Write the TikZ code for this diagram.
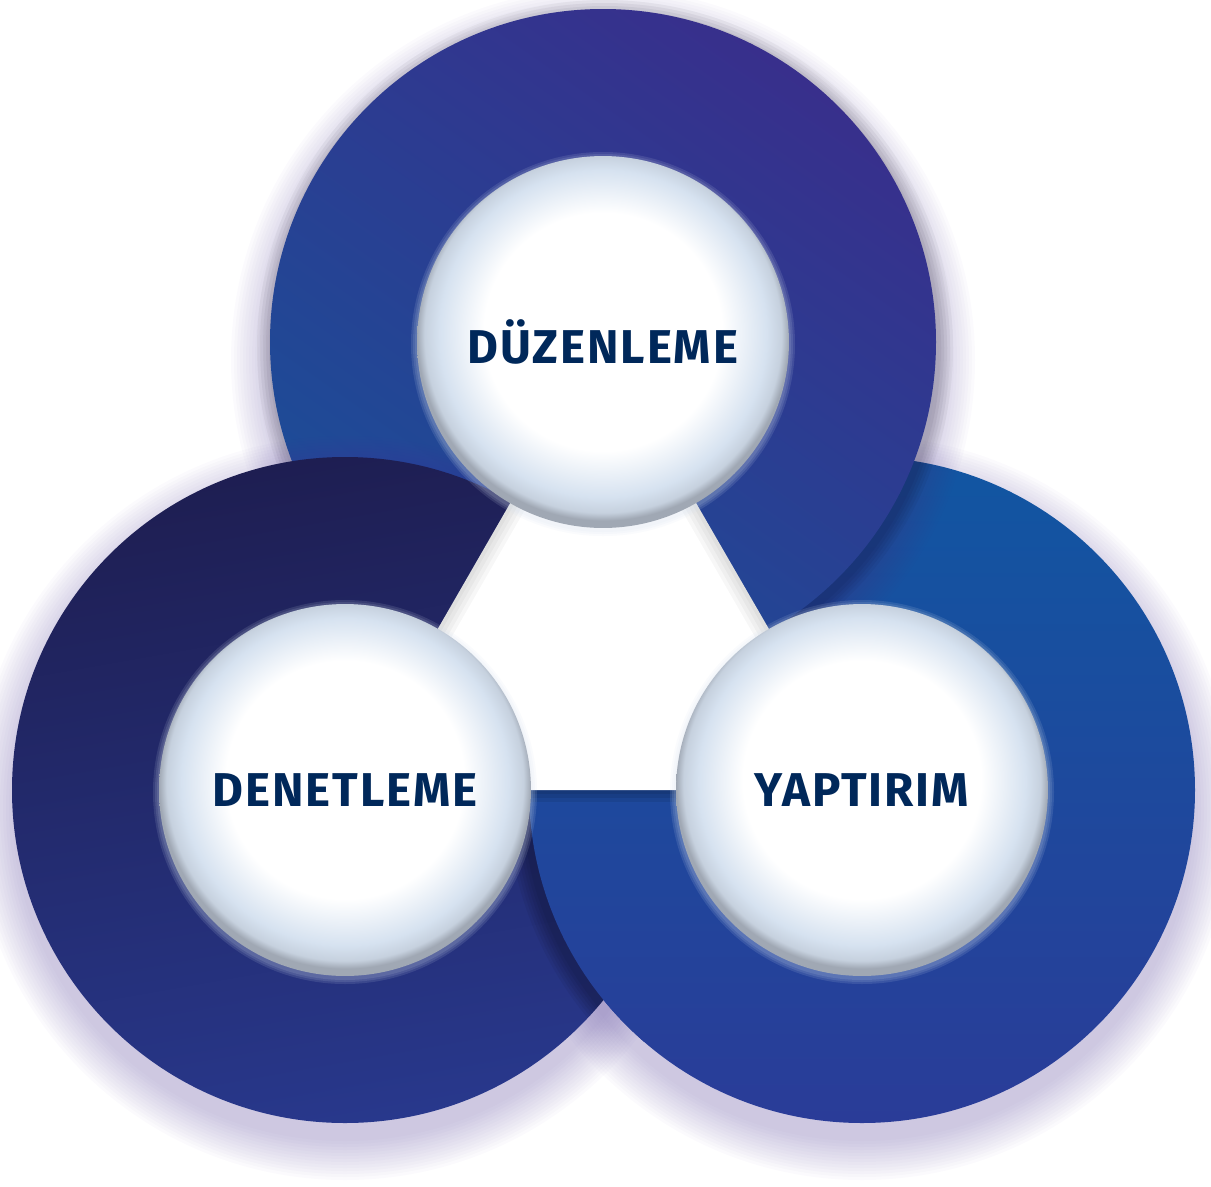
\documentclass[tikz,border=0pt]{standalone}
\usepackage{fontspec}
\usepackage{tikz}
\usetikzlibrary{positioning,calc}
\newfontfamily\ringfont{Fira Sans}[LetterSpace=4]
\definecolor{dzpurple}{RGB}{56,47,140}
\definecolor{dzblue}{RGB}{27,78,152}
\definecolor{dnnavy}{RGB}{30,30,82}
\definecolor{dnblue}{RGB}{40,56,140}
\definecolor{ypblue}{RGB}{17,86,162}
\definecolor{ypindigo}{RGB}{42,60,152}
\definecolor{rimblue}{RGB}{214,226,240}
\definecolor{rimgray}{RGB}{160,168,180}
\definecolor{labelnavy}{RGB}{0,40,90}
\definecolor{glowpurple}{RGB}{80,60,150}
\pgfdeclareradialshading{bubble}{\pgfpoint{0bp}{2bp}}{color(0bp)=(white); color(16bp)=(white); color(22bp)=(rimblue); color(24bp)=(rimblue!70!rimgray); color(25bp)=(rimgray); color(50bp)=(rimgray)}
\tikzstyle{ringshadow} = [fill=glowpurple, opacity=0.022]
\tikzstyle{innerdisc} = [circle, minimum size=7.44cm, inner sep=0pt, shade, shading=bubble, text=labelnavy, font=\ringfont\bfseries\fontsize{27}{27}\selectfont]
\tikzstyle{discglow} = [fill=rimblue, opacity=0.12]

\begin{document}
\begin{tikzpicture}[x=0.02cm, y=-0.02cm]
\useasboundingbox (0,0) rectangle (1211,1187);
\coordinate (topc) at (603,342);
\coordinate (leftc) at (345,790);
\coordinate (rightc) at (862,790);

% Rings
\foreach \k in {3,6,...,42}
  \fill[ringshadow] ($(rightc)+(0,18)$) circle ({330+\k});
\shade[top color=ypblue, bottom color=ypindigo] (rightc) circle (333);

\foreach \k in {3,6,...,42}
  \fill[ringshadow] ($(topc)+(0,18)$) circle ({330+\k});
\foreach \k in {3,6,...,15}
  \fill[black, opacity=0.04] ($(topc)+(2,6)$) circle ({333+\k});
\shade[top color=dzpurple, bottom color=dzblue, shading angle=-35] (topc) circle (333);

\foreach \k in {3,6,...,42}
  \fill[ringshadow] ($(leftc)+(0,18)$) circle ({330+\k});
\shade[top color=dnnavy, bottom color=dnblue, shading angle=10] (leftc) circle (333);

% right ring lies over the left one at the bottom
\begin{scope}
\clip (0,790) rectangle (1211,1187);
\clip (leftc) circle (333);
\foreach \k in {3,6,...,18}
  \fill[black, opacity=0.05] ($(rightc)+(-4,4)$) circle ({333+\k});
\end{scope}
\begin{scope}
\clip (0,790) rectangle (1211,1187);
\clip ($(leftc)+(0,18)$) circle (380);
\shade[top color=ypblue, bottom color=ypindigo] (rightc) circle (333);
\end{scope}

% Middle triangle
\foreach \w in {24,16,8}
  \draw[black, opacity=0.08, line width=\w*0.02cm] (leftc) -- (rightc);
\fill[white] (topc) -- (leftc) -- (rightc) -- cycle;
\begin{scope}
\clip (topc) -- (leftc) -- (rightc) -- cycle;
\foreach \w in {32,24,16,8}
  \draw[black, opacity=0.03, line width=\w*0.02cm] (leftc) -- (topc) -- (rightc);
\end{scope}

% Inner discs
\foreach \c in {topc,leftc,rightc}
  \foreach \k in {2,4,6}
    \fill[discglow] ($(\c)+(0,2)$) circle ({186+\k});
\node[innerdisc] (duz) at (topc) {DÜZENLEME};
\node[innerdisc] (den) at (leftc) {DENETLEME};
\node[innerdisc] (yap) at (rightc) {YAPTIRIM};
\end{tikzpicture}
\end{document}
